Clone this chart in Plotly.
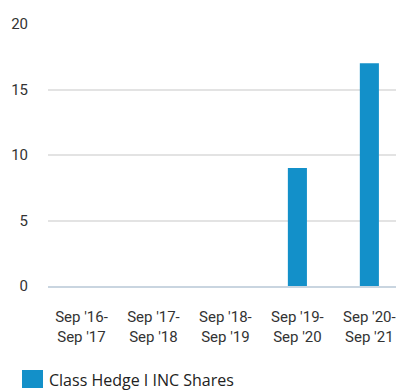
import plotly.graph_objects as go

# Period labels and values
periods = ["Sep '16-<br>Sep '17", "Sep '17-<br>Sep '18", "Sep '18-<br>Sep '19",
           "Sep '19-<br>Sep '20", "Sep '20-<br>Sep '21"]
values = [0, 0, 0, 9, 17]
series_name = "Class Hedge I INC Shares"
y_ticks = [0, 5, 10, 15, 20]

bar_color = "#1390c9"
tick_font = dict(family="Roboto", size=15, color="#333333")

fig = go.Figure()
fig.add_trace(go.Bar(
    x=list(range(len(periods))),
    y=values,
    width=0.265,
    marker=dict(color=bar_color, line=dict(width=0)),
    name=series_name,
    showlegend=False,
))

fig.update_layout(
    width=396, height=390,
    margin=dict(l=48, r=0, t=24, b=104),
    paper_bgcolor="white", plot_bgcolor="white",
    xaxis=dict(
        range=[-0.465, 4.37],
        tickmode="array", tickvals=list(range(len(periods))), ticktext=periods,
        showgrid=False, zeroline=False,
        showline=True, linecolor="#c9d5e0", linewidth=2,
        ticks="", tickfont=tick_font, ticklabelstandoff=16,
        ticklabeloverflow="allow",
    ),
    yaxis=dict(
        range=[0, 20],
        tickmode="array", tickvals=y_ticks,
        showgrid=True, gridcolor="#e3e3e3", gridwidth=1.5,
        zeroline=False, showline=False, ticks="",
        tickfont=tick_font, ticklabelstandoff=19,
    ),
)

# Legend swatch and label
fig.add_shape(type="rect", xref="paper", yref="paper",
              x0=(22 - 48) / 348, x1=(43 - 48) / 348,
              y0=(286 - 388) / 262, y1=(286 - 370) / 262,
              fillcolor=bar_color, line=dict(width=0))
fig.add_annotation(xref="paper", yref="paper",
                   x=(47 - 48) / 348, y=(286 - 380) / 262,
                   xanchor="left", yanchor="middle", showarrow=False,
                   text=series_name,
                   font=dict(family="Open Sans", size=16, color="#222222"))

fig.write_html("out.html")
